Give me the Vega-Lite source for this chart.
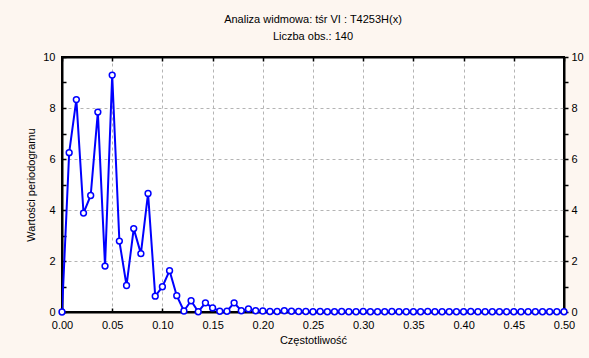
{
  "$schema": "https://vega.github.io/schema/vega-lite/v6.json",
  "autosize": "none",
  "width": 502,
  "height": 255,
  "padding": {"left": 62, "top": 57, "right": 25, "bottom": 46},
  "background": "#FDF6F0",
  "title": {
    "text": ["Analiza widmowa: tśr VI : T4253H(x)", "Liczba obs.: 140"],
    "font": "Liberation Sans",
    "fontSize": 11,
    "fontWeight": "normal",
    "color": "#000000",
    "lineHeight": 17,
    "anchor": "middle",
    "offset": 9
  },
  "config": {
    "view": {"stroke": "#000000", "strokeWidth": 2, "fill": "#FFFFFF"},
    "axis": {
      "labelFont": "Liberation Sans",
      "labelFontSize": 11,
      "labelColor": "#000000",
      "titleFont": "Liberation Sans",
      "titleFontSize": 11,
      "titleFontWeight": "normal",
      "titleColor": "#000000",
      "domainColor": "#000000",
      "domainWidth": 2,
      "tickColor": "#000000",
      "tickWidth": 1.5,
      "gridColor": "#B4B4B4",
      "gridDash": [3, 3],
      "gridWidth": 1
    }
  },
  "data": {
    "values": [
      {"freq": 0, "value": 0},
      {"freq": 0.00714, "value": 6.25},
      {"freq": 0.01429, "value": 8.33},
      {"freq": 0.02143, "value": 3.88},
      {"freq": 0.02857, "value": 4.57},
      {"freq": 0.03571, "value": 7.84},
      {"freq": 0.04286, "value": 1.8},
      {"freq": 0.05, "value": 9.29},
      {"freq": 0.05714, "value": 2.78},
      {"freq": 0.06429, "value": 1.04},
      {"freq": 0.07143, "value": 3.27},
      {"freq": 0.07857, "value": 2.29},
      {"freq": 0.08571, "value": 4.65},
      {"freq": 0.09286, "value": 0.62},
      {"freq": 0.1, "value": 0.99},
      {"freq": 0.10714, "value": 1.62},
      {"freq": 0.11429, "value": 0.64},
      {"freq": 0.12143, "value": 0.04},
      {"freq": 0.12857, "value": 0.44},
      {"freq": 0.13571, "value": 0.01},
      {"freq": 0.14286, "value": 0.36},
      {"freq": 0.15, "value": 0.16},
      {"freq": 0.15714, "value": 0.03},
      {"freq": 0.16429, "value": 0.03},
      {"freq": 0.17143, "value": 0.36},
      {"freq": 0.17857, "value": 0.05},
      {"freq": 0.18571, "value": 0.12},
      {"freq": 0.19286, "value": 0.05},
      {"freq": 0.2, "value": 0.04},
      {"freq": 0.20714, "value": 0.02},
      {"freq": 0.21429, "value": 0.02},
      {"freq": 0.22143, "value": 0.05},
      {"freq": 0.22857, "value": 0.03},
      {"freq": 0.23571, "value": 0.02},
      {"freq": 0.24286, "value": 0.02},
      {"freq": 0.25, "value": 0.01},
      {"freq": 0.25714, "value": 0.02},
      {"freq": 0.26429, "value": 0.01},
      {"freq": 0.27143, "value": 0.01},
      {"freq": 0.27857, "value": 0.02},
      {"freq": 0.28571, "value": 0.01},
      {"freq": 0.29286, "value": 0.01},
      {"freq": 0.3, "value": 0.02},
      {"freq": 0.30714, "value": 0.01},
      {"freq": 0.31429, "value": 0.01},
      {"freq": 0.32143, "value": 0.01},
      {"freq": 0.32857, "value": 0.02},
      {"freq": 0.33571, "value": 0.01},
      {"freq": 0.34286, "value": 0.01},
      {"freq": 0.35, "value": 0.01},
      {"freq": 0.35714, "value": 0.01},
      {"freq": 0.36429, "value": 0.02},
      {"freq": 0.37143, "value": 0.01},
      {"freq": 0.37857, "value": 0.01},
      {"freq": 0.38571, "value": 0.01},
      {"freq": 0.39286, "value": 0.01},
      {"freq": 0.4, "value": 0.01},
      {"freq": 0.40714, "value": 0.02},
      {"freq": 0.41429, "value": 0.01},
      {"freq": 0.42143, "value": 0.01},
      {"freq": 0.42857, "value": 0.01},
      {"freq": 0.43571, "value": 0.01},
      {"freq": 0.44286, "value": 0.01},
      {"freq": 0.45, "value": 0.01},
      {"freq": 0.45714, "value": 0.01},
      {"freq": 0.46429, "value": 0.01},
      {"freq": 0.47143, "value": 0.01},
      {"freq": 0.47857, "value": 0.01},
      {"freq": 0.48571, "value": 0.01},
      {"freq": 0.49286, "value": 0.01},
      {"freq": 0.5, "value": 0.01}
    ]
  },
  "layer": [
    {
      "mark": {"type": "line", "color": "#0000FF", "strokeWidth": 2, "clip": true},
      "encoding": {
        "x": {
          "field": "freq", "type": "quantitative",
          "scale": {"domain": [0, 0.5], "nice": false},
          "axis": {
            "orient": "bottom",
            "title": "Częstotliwość",
            "values": [0, 0.05, 0.1, 0.15, 0.2, 0.25, 0.3, 0.35, 0.4, 0.45, 0.5],
            "format": ".2f",
            "tickSize": -4,
            "labelPadding": 11,
            "titlePadding": 4,
            "grid": true,
            "labelFlush": false,
            "labelOverlap": false
          }
        },
        "y": {
          "field": "value", "type": "quantitative",
          "scale": {"domain": [0, 10], "nice": false},
          "axis": {
            "orient": "left",
            "title": "Wartości periodogramu",
            "values": [0, 1, 2, 3, 4, 5, 6, 7, 8, 9, 10],
            "labelExpr": "datum.value % 2 == 0 ? datum.label : ''",
            "tickSize": -4,
            "labelPadding": 11,
            "titlePadding": 6,
            "grid": true,
            "gridOpacity": {"condition": {"test": "datum.value % 2 == 0", "value": 1}, "value": 0},
            "labelFlush": false,
            "labelOverlap": false
          }
        }
      }
    },
    {
      "mark": {"type": "point", "shape": "circle", "filled": true, "fill": "#FFFFFF", "stroke": "#0000FF", "strokeWidth": 1.5, "size": 34, "opacity": 1, "clip": false},
      "encoding": {
        "x": {
          "field": "freq", "type": "quantitative",
          "axis": {
            "orient": "top",
            "title": null,
            "values": [0, 0.05, 0.1, 0.15, 0.2, 0.25, 0.3, 0.35, 0.4, 0.45, 0.5],
            "labels": false,
            "tickSize": -4,
            "grid": false
          }
        },
        "y": {
          "field": "value", "type": "quantitative",
          "axis": {
            "orient": "right",
            "title": null,
            "values": [0, 1, 2, 3, 4, 5, 6, 7, 8, 9, 10],
            "labelExpr": "datum.value % 2 == 0 ? datum.label : ''",
            "tickSize": 4,
            "labelPadding": 3,
            "grid": false,
            "labelFlush": false,
            "labelOverlap": false
          }
        }
      }
    }
  ],
  "resolve": {"axis": {"x": "independent", "y": "independent"}}
}
